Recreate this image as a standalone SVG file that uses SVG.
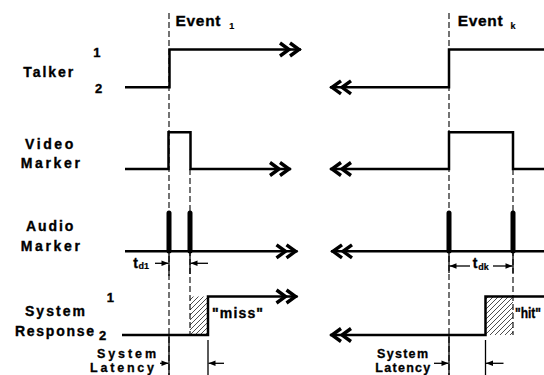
<svg xmlns="http://www.w3.org/2000/svg" width="544" height="375" viewBox="0 0 544 375">
<style>
.sig{fill:none;stroke:#000;stroke-width:2.5;stroke-linejoin:miter}
.dash{fill:none;stroke:#000;stroke-width:1.1;stroke-dasharray:6 3}
.thin{fill:none;stroke:#000;stroke-width:1.3}
.pulse{stroke:#000;stroke-width:5;stroke-linecap:round}
.lbl{font-family:"Liberation Sans",Arial,sans-serif;font-weight:bold;font-size:14px;fill:#000;stroke:#000;stroke-width:0.35}
.num{font-family:"Liberation Sans",Arial,sans-serif;font-weight:bold;font-size:13px;fill:#000;stroke:#000;stroke-width:0.35}
.sub{font-family:"Liberation Sans",Arial,sans-serif;font-weight:bold;font-size:9px;fill:#000;stroke:#000;stroke-width:0.2}
.ev{font-family:"Liberation Sans",Arial,sans-serif;font-weight:bold;font-size:15.5px;fill:#000;stroke:#000;stroke-width:0.35}
.lat{font-family:"Liberation Sans",Arial,sans-serif;font-weight:bold;font-size:12.5px;fill:#000;stroke:#000;stroke-width:0.3}
</style>
<defs>
<marker id="dbl" markerUnits="userSpaceOnUse" viewBox="-25 -10 29 20" markerWidth="29" markerHeight="20" refX="0" refY="0" orient="auto">
<path d="M-21,-6.5 L-12,0 L-21,6.5 M-11,-6.5 L-2,0 L-11,6.5" fill="none" stroke="#000" stroke-width="3.4"/>
</marker>
<marker id="ah" markerUnits="userSpaceOnUse" viewBox="-8 -4 9 8" markerWidth="9" markerHeight="8" refX="0" refY="0" orient="auto">
<path d="M-7,-2.8 L0,0 L-7,2.8 z" fill="#000"/>
</marker>
<pattern id="hatch" patternUnits="userSpaceOnUse" width="5" height="5">
<path d="M-1,1 L1,-1 M0,5 L5,0 M4,6 L6,4" stroke="#000" stroke-width="0.7"/>
</pattern>
</defs>

<g id="hatches">
<rect x="190" y="296.5" width="18" height="38.5" fill="url(#hatch)"/>
<rect x="485.5" y="296.5" width="27.5" height="38.5" fill="url(#hatch)"/>
</g>

<g id="connectors">
<line class="dash" x1="169" y1="13" x2="169" y2="375"/>
<line class="dash" x1="190" y1="169" x2="190" y2="335"/>
<line class="dash" x1="449" y1="13" x2="449" y2="375"/>
<line class="dash" x1="513" y1="169" x2="513" y2="335"/>
<line class="thin" x1="169" y1="251" x2="169" y2="276"/>
<line class="thin" x1="169" y1="335" x2="169" y2="375"/>
<line class="thin" x1="190" y1="251" x2="190" y2="274"/>
<line class="thin" x1="449" y1="251" x2="449" y2="273"/>
<line class="thin" x1="449" y1="335" x2="449" y2="375"/>
<line class="thin" x1="513" y1="251" x2="513" y2="273"/>
<line class="thin" x1="208" y1="340" x2="208" y2="375"/>
<line class="thin" x1="485.5" y1="340" x2="485.5" y2="375"/>
<line class="thin" x1="155" y1="263.3" x2="168.5" y2="263.3" marker-end="url(#ah)"/>
<line class="thin" x1="208" y1="263.3" x2="190.5" y2="263.3" marker-end="url(#ah)"/>
<line class="thin" x1="470" y1="266" x2="449.5" y2="266" marker-end="url(#ah)"/>
<line class="thin" x1="493" y1="266" x2="512.5" y2="266" marker-end="url(#ah)"/>
<line class="thin" x1="160" y1="363.3" x2="168.5" y2="363.3" marker-end="url(#ah)"/>
<line class="thin" x1="224" y1="363.3" x2="208.5" y2="363.3" marker-end="url(#ah)"/>
<line class="thin" x1="434" y1="363.3" x2="448.5" y2="363.3" marker-end="url(#ah)"/>
<line class="thin" x1="503.5" y1="363.3" x2="486" y2="363.3" marker-end="url(#ah)"/>
</g>

<g id="talker">
<text class="lbl" x="23.3" y="76.7" textLength="50" lengthAdjust="spacing">Talker</text>
<text class="num" x="93.3" y="56.7">1</text>
<text class="num" x="95" y="93">2</text>
<path class="sig" d="M125,87.3 H169.5 V49.5 H301" marker-end="url(#dbl)"/>
<path class="sig" d="M546,49.5 H449 V87.3 H330" marker-end="url(#dbl)"/>
</g>

<g id="video-marker">
<text class="lbl" x="25" y="149" textLength="48.3" lengthAdjust="spacing">Video</text>
<text class="lbl" x="20.7" y="167.7" textLength="59.3" lengthAdjust="spacing">Marker</text>
<path class="sig" d="M125,169 H168.5 V132.3 H190.5 V169 H291" marker-end="url(#dbl)"/>
<path class="sig" d="M546,169 H513 V132.3 H449 V169 H330" marker-end="url(#dbl)"/>
</g>

<g id="audio-marker">
<text class="lbl" x="26" y="230.7" textLength="47.3" lengthAdjust="spacing">Audio</text>
<text class="lbl" x="20.7" y="250.7" textLength="59.3" lengthAdjust="spacing">Marker</text>
<path class="sig" d="M125,251.3 H297.5" marker-end="url(#dbl)"/>
<path class="sig" d="M546,251.3 H331" marker-end="url(#dbl)"/>
<line class="pulse" x1="169" y1="213" x2="169" y2="251"/>
<line class="pulse" x1="190" y1="213" x2="190" y2="251"/>
<line class="pulse" x1="449" y1="213" x2="449" y2="251"/>
<line class="pulse" x1="513" y1="213" x2="513" y2="251"/>
<text class="lbl" x="133.3" y="268.3">t</text>
<text class="sub" x="138.6" y="269.3">d1</text>
<text class="lbl" x="472.8" y="267.7">t</text>
<text class="sub" x="478.2" y="270">dk</text>
</g>

<g id="system-response">
<text class="lbl" x="25" y="315.7" textLength="60" lengthAdjust="spacing">System</text>
<text class="lbl" x="15" y="335.7" textLength="79" lengthAdjust="spacing">Response</text>
<text class="num" x="106.7" y="301.7">1</text>
<text class="num" x="99" y="340">2</text>
<path class="sig" d="M122,335 H208 V296.5 H297.5" marker-end="url(#dbl)"/>
<path class="sig" d="M546,296.5 H485.5 V335 H330" marker-end="url(#dbl)"/>
<text class="lbl" x="212" y="318.3" textLength="51" lengthAdjust="spacing">"miss"</text>
<text class="lbl" x="515" y="318.3" textLength="26" lengthAdjust="spacingAndGlyphs">"hit"</text>
</g>

<g id="events">
<text class="ev" x="175.5" y="25.7" textLength="45" lengthAdjust="spacing">Event</text>
<text class="sub" x="229.3" y="29.3">1</text>
<text class="ev" x="457.7" y="25.7" textLength="45" lengthAdjust="spacing">Event</text>
<text class="sub" x="510.5" y="29.3">k</text>
</g>

<g id="latency">
<text class="lat" x="97" y="358" textLength="59" lengthAdjust="spacing">System</text>
<text class="lat" x="90" y="372" textLength="64" lengthAdjust="spacing">Latency</text>
<text class="lat" x="377" y="358" textLength="51" lengthAdjust="spacing">System</text>
<text class="lat" x="375.3" y="372" textLength="55" lengthAdjust="spacing">Latency</text>
</g>
</svg>
